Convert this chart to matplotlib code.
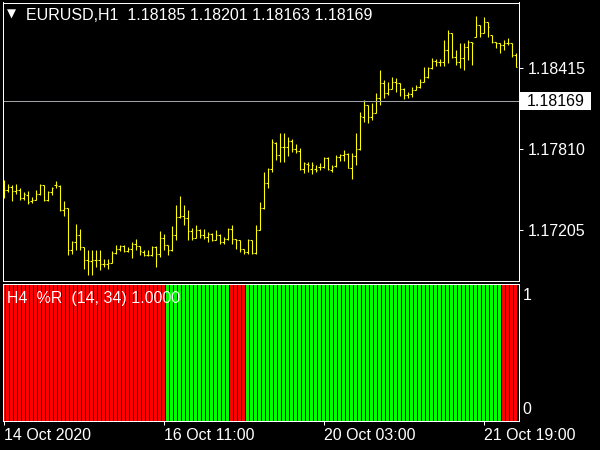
import matplotlib
matplotlib.use('Agg')
import matplotlib.pyplot as plt
import matplotlib.transforms as mtransforms
from matplotlib.patches import Rectangle
import numpy as np

# ---------------- data ----------------
symbol = "EURUSD,H1"
last_ohlc = ["1.18185", "1.18201", "1.18163", "1.18169"]
current_price = 1.18169
price_ticks = [1.18415, 1.17810, 1.17205]

opens = [1.17507, 1.17502, 1.17527, 1.17495, 1.17502, 1.17440, 1.17465, 1.17420, 1.17432, 1.17472,
         1.17540, 1.17427, 1.17490, 1.17540, 1.17535, 1.17357, 1.17365, 1.17052, 1.17115, 1.17170,
         1.17077, 1.16982, 1.16972, 1.16982, 1.16982, 1.16952, 1.16947, 1.16957, 1.17035, 1.17065,
         1.17082, 1.17047, 1.17065, 1.17102, 1.17082, 1.17040, 1.17015, 1.17015, 1.17077, 1.17027,
         1.17147, 1.17090, 1.17052, 1.17170, 1.17302, 1.17307, 1.17290, 1.17197, 1.17147, 1.17202,
         1.17165, 1.17152, 1.17177, 1.17127, 1.17165, 1.17115, 1.17140, 1.17215, 1.17140, 1.17127,
         1.17065, 1.17040, 1.17127, 1.17032, 1.17207, 1.17365, 1.17555, 1.17657, 1.17857, 1.17765,
         1.17827, 1.17822, 1.17872, 1.17807, 1.17797, 1.17657, 1.17700, 1.17657, 1.17657, 1.17677,
         1.17677, 1.17740, 1.17652, 1.17685, 1.17752, 1.17765, 1.17775, 1.17665, 1.17760, 1.17810,
         1.18052, 1.18140, 1.18052, 1.18077, 1.18190, 1.18302, 1.18227, 1.18257, 1.18315, 1.18302,
         1.18257, 1.18215, 1.18220, 1.18252, 1.18272, 1.18315, 1.18347, 1.18415, 1.18470, 1.18465,
         1.18465, 1.18552, 1.18677, 1.18502, 1.18465, 1.18490, 1.18577, 1.18615, 1.18652, 1.18740,
         1.18682, 1.18765, 1.18665, 1.18615, 1.18602, 1.18590, 1.18602, 1.18602, 1.18515]
highs = [1.17582, 1.17552, 1.17540, 1.17545, 1.17515, 1.17490, 1.17497, 1.17452, 1.17507, 1.17552,
         1.17540, 1.17497, 1.17527, 1.17572, 1.17540, 1.17420, 1.17365, 1.17122, 1.17247, 1.17215,
         1.17077, 1.17052, 1.17052, 1.17052, 1.17052, 1.16990, 1.16990, 1.17045, 1.17090, 1.17090,
         1.17090, 1.17077, 1.17115, 1.17140, 1.17082, 1.17052, 1.17052, 1.17082, 1.17082, 1.17195,
         1.17172, 1.17090, 1.17232, 1.17390, 1.17457, 1.17390, 1.17352, 1.17222, 1.17240, 1.17215,
         1.17215, 1.17190, 1.17182, 1.17202, 1.17177, 1.17152, 1.17222, 1.17240, 1.17140, 1.17132,
         1.17065, 1.17135, 1.17132, 1.17240, 1.17415, 1.17640, 1.17665, 1.17885, 1.17865, 1.17927,
         1.17932, 1.17897, 1.17885, 1.17847, 1.17815, 1.17715, 1.17715, 1.17715, 1.17690, 1.17702,
         1.17752, 1.17752, 1.17690, 1.17765, 1.17772, 1.17802, 1.17777, 1.17777, 1.17927, 1.18090,
         1.18177, 1.18140, 1.18152, 1.18227, 1.18402, 1.18327, 1.18315, 1.18352, 1.18340, 1.18302,
         1.18265, 1.18240, 1.18272, 1.18290, 1.18332, 1.18427, 1.18427, 1.18490, 1.18482, 1.18482,
         1.18627, 1.18702, 1.18677, 1.18552, 1.18602, 1.18607, 1.18627, 1.18615, 1.18807, 1.18740,
         1.18802, 1.18765, 1.18665, 1.18615, 1.18607, 1.18627, 1.18640, 1.18602, 1.18527]
lows = [1.17447, 1.17489, 1.17422, 1.17477, 1.17432, 1.17432, 1.17397, 1.17407, 1.17427, 1.17465,
        1.17422, 1.17422, 1.17465, 1.17515, 1.17347, 1.17307, 1.17020, 1.17022, 1.17052, 1.17052,
        1.16915, 1.16870, 1.16870, 1.16927, 1.16902, 1.16927, 1.16915, 1.16957, 1.17027, 1.17047,
        1.17040, 1.17040, 1.16995, 1.17052, 1.17015, 1.17007, 1.17007, 1.17012, 1.16927, 1.17002,
        1.17052, 1.17015, 1.17050, 1.17127, 1.17297, 1.17240, 1.17127, 1.17127, 1.17147, 1.17147,
        1.17140, 1.17115, 1.17122, 1.17127, 1.17102, 1.17102, 1.17132, 1.17102, 1.17065, 1.17040,
        1.17027, 1.17027, 1.17027, 1.17027, 1.17202, 1.17360, 1.17515, 1.17640, 1.17727, 1.17715,
        1.17715, 1.17757, 1.17790, 1.17777, 1.17652, 1.17632, 1.17640, 1.17627, 1.17640, 1.17652,
        1.17665, 1.17652, 1.17635, 1.17677, 1.17720, 1.17720, 1.17665, 1.17585, 1.17690, 1.17802,
        1.18015, 1.18002, 1.18027, 1.18077, 1.18140, 1.18190, 1.18215, 1.18257, 1.18240, 1.18207,
        1.18182, 1.18190, 1.18202, 1.18252, 1.18270, 1.18310, 1.18340, 1.18410, 1.18432, 1.18432,
        1.18432, 1.18452, 1.18490, 1.18440, 1.18415, 1.18402, 1.18477, 1.18440, 1.18652, 1.18647,
        1.18677, 1.18652, 1.18602, 1.18565, 1.18527, 1.18552, 1.18590, 1.18502, 1.18427]
closes = [1.17507, 1.17527, 1.17495, 1.17502, 1.17440, 1.17477, 1.17415, 1.17432, 1.17472, 1.17540,
          1.17427, 1.17490, 1.17515, 1.17540, 1.17357, 1.17365, 1.17052, 1.17115, 1.17170, 1.17077,
          1.16982, 1.16972, 1.16982, 1.16982, 1.16952, 1.16947, 1.16957, 1.17035, 1.17065, 1.17082,
          1.17047, 1.17065, 1.17102, 1.17082, 1.17045, 1.17015, 1.17015, 1.17077, 1.17027, 1.17147,
          1.17090, 1.17052, 1.17170, 1.17302, 1.17307, 1.17290, 1.17197, 1.17147, 1.17202, 1.17165,
          1.17152, 1.17177, 1.17127, 1.17165, 1.17115, 1.17140, 1.17215, 1.17140, 1.17132, 1.17065,
          1.17040, 1.17127, 1.17032, 1.17207, 1.17365, 1.17555, 1.17657, 1.17865, 1.17765, 1.17827,
          1.17822, 1.17872, 1.17807, 1.17797, 1.17657, 1.17702, 1.17690, 1.17690, 1.17652, 1.17677,
          1.17745, 1.17657, 1.17677, 1.17752, 1.17765, 1.17775, 1.17670, 1.17760, 1.17810, 1.18055,
          1.18140, 1.18052, 1.18077, 1.18190, 1.18302, 1.18227, 1.18257, 1.18315, 1.18302, 1.18257,
          1.18215, 1.18220, 1.18252, 1.18272, 1.18315, 1.18347, 1.18415, 1.18470, 1.18465, 1.18465,
          1.18552, 1.18677, 1.18502, 1.18465, 1.18490, 1.18577, 1.18615, 1.18602, 1.18740, 1.18682,
          1.18765, 1.18727, 1.18615, 1.18602, 1.18590, 1.18602, 1.18602, 1.18515, 1.18427]

# indicator (%R, H4 on H1 chart): runs of state
signal_states = ["down", "up", "down", "up", "down"]
signal_counts = [41, 16, 4, 64, 4]
signal_value = 1.0
indicator_label = "H4  %R  (14, 34) 1.0000"
indicator_levels = [1, 0]

time_labels = ["14 Oct 2020", "16 Oct 11:00", "20 Oct 03:00", "21 Oct 19:00"]
time_label_bars = [0, 40, 80, 120]

# ---------------- style ----------------
plt.rcParams['font.family'] = ['Liberation Sans', 'DejaVu Sans']
FS = 11.5
BAR_COLOR = '#FFFF00'
STATE_COLOR = {"up": '#00FF00', "down": '#FF0000'}
PX = 0.72  # one pixel in points

W, H = 600, 450
fig = plt.figure(figsize=(6, 4.5), dpi=100, facecolor='black')


def rect(l, t, r, b):
    return [l / W, 1 - b / H, (r - l) / W, (b - t) / H]


ax = fig.add_axes(rect(2.5, 2.5, 518.5, 280.5), facecolor='black')
ax2 = fig.add_axes(rect(2.5, 283.5, 518.5, 420.5), facecolor='black')

n = len(opens)
x = np.arange(n)

# ---------------- price bars ----------------
ax.vlines(x, lows, highs, color=BAR_COLOR, lw=PX * 1.1, snap=True)
ax.hlines(opens, x - 0.375, x, color=BAR_COLOR, lw=PX * 1.1, snap=True)
ax.hlines(closes, x, x + 0.375, color=BAR_COLOR, lw=PX * 1.1, snap=True)

ax.axhline(current_price, color='#A0A4A8', lw=PX)

ax.set_xlim(-0.25, 128.75)
ax.set_ylim(1.168256, 1.189078)

ax.set_xticks([])
ax.yaxis.tick_right()
ax.set_yticks(price_ticks)
ax.set_yticklabels([f"{v:.5f}" for v in price_ticks])
ax.tick_params(axis='y', direction='out', length=3, width=PX, color='white',
               labelcolor='white', labelsize=FS, pad=3.5)
for s in ax.spines.values():
    s.set_color('white')
    s.set_linewidth(PX)

# current price label box
fig.canvas.draw()
yd = ax.transData.transform((0, current_price))[1]
xr = ax.transAxes.transform((1, 0))[0]
box = Rectangle((xr + 1.5, yd - 9), 71, 18, transform=None, facecolor='white',
                edgecolor='none', zorder=5)
fig.patches.append(box)
fig.text((xr + 8) / W, yd / H, f"{current_price:.5f}", color='black', fontsize=FS,
         va='center', ha='left', zorder=6)

# ---------------- indicator ----------------
colors = []
for s, c in zip(signal_states, signal_counts):
    colors += [STATE_COLOR[s]] * c
ax2.bar(x, [signal_value] * n, width=0.75, color=colors, linewidth=0, bottom=0)
ax2.set_xlim(-0.25, 128.75)
ax2.set_ylim(0, 1)
ax2.set_yticks([])
ax2.set_xticks(time_label_bars)
ax2.set_xticklabels(time_labels, ha='left')
ax2.tick_params(axis='x', direction='out', length=3, width=PX, color='white',
                labelcolor='white', labelsize=FS, pad=2.5)
for s in ax2.spines.values():
    s.set_color('white')
    s.set_linewidth(PX)

# level labels on the right of the indicator window
ytr = ax2.get_yaxis_transform()
off_top = mtransforms.offset_copy(ytr, fig=fig, x=4, y=-5, units='dots')
off_bot = mtransforms.offset_copy(ytr, fig=fig, x=4, y=4, units='dots')
ax2.text(1.0, indicator_levels[0], str(indicator_levels[0]), transform=off_top,
         color='white', fontsize=FS, ha='left', va='top', clip_on=False)
ax2.text(1.0, indicator_levels[1], str(indicator_levels[1]), transform=off_bot,
         color='white', fontsize=FS, ha='left', va='bottom', clip_on=False)

# ---------------- titles ----------------
fig.text(6.5 / W, 1 - 18 / H, '\u25BC', color='white', fontsize=8.5,
         family='DejaVu Sans', va='baseline', ha='left')
fig.text(26 / W, 1 - 20.5 / H, symbol + "  " + " ".join(last_ohlc), color='white',
         fontsize=FS, va='baseline', ha='left')
fig.text(7 / W, 1 - 303.3 / H, indicator_label, color='white', fontsize=FS,
         va='baseline', ha='left')

fig.savefig('out.png', dpi=100, facecolor='black')
